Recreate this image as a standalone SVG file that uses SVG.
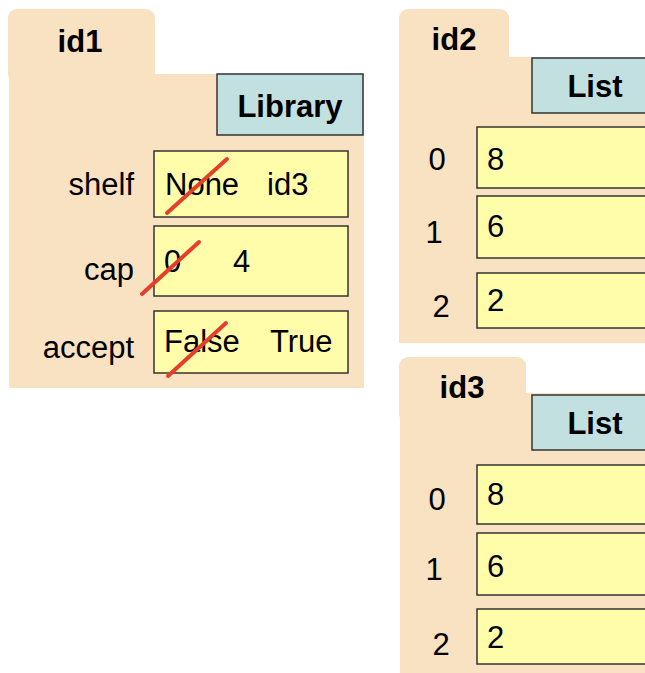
<svg xmlns="http://www.w3.org/2000/svg" width="645" height="673" viewBox="0 0 645 673">
<style>
.folder{fill:#F8E2C1;stroke:none}
.cls{fill:#C3E0E1;stroke:#333;stroke-width:1.5}
.cell{fill:#FFFDAA;stroke:#333;stroke-width:1.5}
text{font-family:"Liberation Sans",Arial,sans-serif;font-size:31px;fill:#000}
.b{font-weight:bold;font-size:31px}
.lbl{text-anchor:end}
.strike{stroke:#E53E2B;stroke-width:4;stroke-linecap:round;fill:none}
</style>
<rect width="645" height="673" fill="#fff"/>
<g id="id1">
<rect class="folder" x="8" y="9" width="147" height="74" rx="9"/>
<rect class="folder" x="9" y="74" width="355" height="314"/>
<text class="b" x="80" y="52" text-anchor="middle">id1</text>
<rect class="cls" x="217" y="74" width="146" height="61"/>
<text class="b" x="290" y="117" text-anchor="middle">Library</text>
<rect class="cell" x="154" y="151" width="194" height="66"/>
<rect class="cell" x="154" y="226" width="194" height="70"/>
<rect class="cell" x="154" y="311" width="194" height="62"/>
<text class="lbl" x="134" y="195">shelf</text>
<text class="lbl" x="134" y="280">cap</text>
<text class="lbl" x="134" y="358">accept</text>
<text x="165" y="195">None</text>
<text x="267" y="195">id3</text>
<text x="164" y="272">0</text>
<text x="233" y="272">4</text>
<text x="164" y="352">False</text>
<text x="270" y="352">True</text>
<line class="strike" x1="167" y1="213" x2="227" y2="159"/>
<line class="strike" x1="142" y1="294" x2="199" y2="242"/>
<line class="strike" x1="168" y1="376" x2="226" y2="323"/>
</g>
<g id="id2">
<rect class="folder" x="399" y="9" width="110" height="60" rx="9"/>
<rect class="folder" x="399" y="57" width="250" height="286"/>
<text class="b" x="454" y="50" text-anchor="middle">id2</text>
<rect class="cls" x="532" y="58" width="120" height="55"/>
<text class="b" x="595" y="97" text-anchor="middle">List</text>
<rect class="cell" x="477" y="127" width="175" height="61"/>
<rect class="cell" x="477" y="196" width="175" height="62"/>
<rect class="cell" x="477" y="273" width="175" height="55"/>
<text x="437" y="170" text-anchor="middle">0</text>
<text x="434" y="243" text-anchor="middle">1</text>
<text x="441" y="317" text-anchor="middle">2</text>
<text x="487" y="170">8</text>
<text x="487" y="237">6</text>
<text x="487" y="311">2</text>
</g>
<g id="id3">
<rect class="folder" x="399" y="357" width="127" height="66" rx="9"/>
<rect class="folder" x="400" y="393" width="250" height="285"/>
<text class="b" x="462" y="398" text-anchor="middle">id3</text>
<rect class="cls" x="532" y="395" width="120" height="55"/>
<text class="b" x="595" y="434" text-anchor="middle">List</text>
<rect class="cell" x="477" y="465" width="175" height="59"/>
<rect class="cell" x="477" y="533" width="175" height="62"/>
<rect class="cell" x="477" y="609" width="175" height="55"/>
<text x="437" y="510" text-anchor="middle">0</text>
<text x="434" y="580" text-anchor="middle">1</text>
<text x="441" y="655" text-anchor="middle">2</text>
<text x="487" y="505">8</text>
<text x="487" y="577">6</text>
<text x="487" y="648">2</text>
</g>
<g id="connectors"></g>
</svg>
